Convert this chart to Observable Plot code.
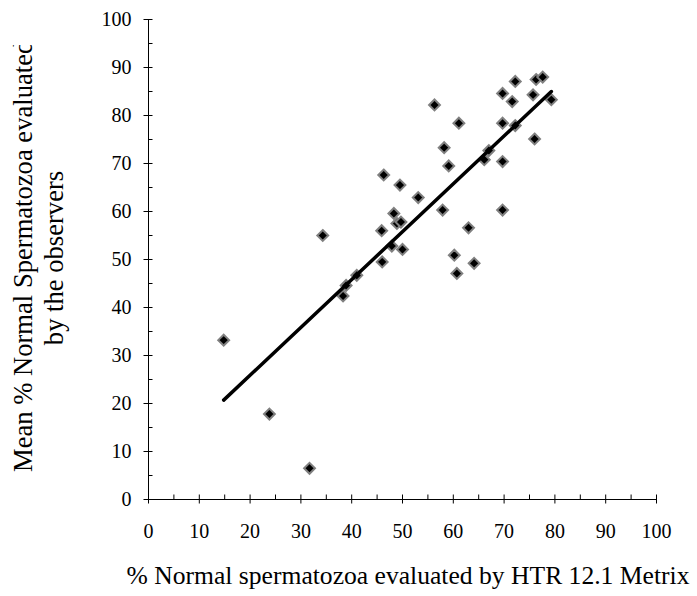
<!DOCTYPE html>
<html><head><meta charset="utf-8">
<script src="https://cdn.jsdelivr.net/npm/d3@7"></script>
<script src="https://cdn.jsdelivr.net/npm/@observablehq/plot@0.6"></script>
<style>
html,body{margin:0;padding:0;background:#fff}
#chart{width:697px;height:596px;overflow:hidden}
</style>
</head><body><div id="chart"></div>
<script>
// % normal spermatozoa by HTR 12.1 Metrix (x) vs mean % by observers (y)
const htrMetrix = [14.8, 23.8, 31.7, 34.3, 46.3, 49.5, 53.1, 48.3, 48.9, 49.7, 45.9, 47.9, 50.0, 46.0, 41.0, 38.9, 38.3,
  56.3, 61.1, 58.2, 59.1, 57.9, 63.0, 60.2, 60.7, 64.1, 69.7, 69.7, 66.1, 67.0, 69.7, 72.2, 76.0, 69.7, 71.6, 72.2, 75.7, 76.3, 77.6, 79.3];
const observerMean = [33.2, 17.8, 6.5, 55.0, 67.6, 65.5, 62.9, 59.6, 57.5, 57.8, 56.0, 52.8, 52.1, 49.5, 46.7, 44.6, 42.4,
  82.2, 78.4, 73.3, 69.5, 60.3, 56.6, 50.9, 47.1, 49.2, 60.3, 70.4, 70.8, 72.7, 78.4, 77.9, 75.1, 84.6, 82.9, 87.1, 84.3, 87.5, 88.0, 83.3];
// regression line end points
const lineX = [14.8, 79.3];
const lineY = [20.7, 85.0];
const majorTicks = [0, 10, 20, 30, 40, 50, 60, 70, 80, 90, 100];
const minorTicks = [5, 15, 25, 35, 45, 55, 65, 75, 85, 95];
const xTitle = "% Normal spermatozoa evaluated by HTR 12.1 Metrix";
const yTitle1 = "Mean % Normal Spermatozoa evaluated";
const yTitle2 = "by the observers";

const points = htrMetrix.map((x, i) => ({x, y: observerMean[i]}));
const trend = lineX.map((x, i) => ({x, y: lineY[i]}));
const font = "'Liberation Serif', 'Times New Roman', serif";
const noText = () => "";

const svg = Plot.plot({
  width: 697,
  height: 596,
  marginLeft: 148,
  marginRight: 41,
  marginTop: 19,
  marginBottom: 97,
  style: {fontFamily: font, fontSize: "20px", color: "black", background: "white", overflow: "visible"},
  x: {domain: [0, 100], label: null},
  y: {domain: [0, 100], label: null},
  marks: [
    Plot.ruleY([0], {stroke: "black", strokeWidth: 1}),
    Plot.ruleX([0], {stroke: "black", strokeWidth: 1}),
    Plot.axisX(majorTicks, {tickSize: 9, dy: -4.5, tickFormat: noText, label: null, stroke: "black"}),
    Plot.axisX(minorTicks, {tickSize: 4.5, dy: -4.5, tickFormat: noText, label: null, stroke: "black"}),
    Plot.axisY(majorTicks, {tickSize: 9, dx: 4.5, tickFormat: noText, label: null, stroke: "black"}),
    Plot.axisY(minorTicks, {tickSize: 4.5, dx: 4.5, tickFormat: noText, label: null, stroke: "black"}),
    Plot.axisX(majorTicks, {tickSize: 0, tickPadding: 24.3, label: null, fontSize: 20, fill: "black"}),
    Plot.axisY(majorTicks, {tickSize: 0, tickPadding: 17, label: null, fontSize: 20, fill: "black"}),
    Plot.dot(points, {x: "x", y: "y", symbol: "diamond2", r: 4.9, fill: "black", stroke: "#808080", strokeWidth: 2}),
    Plot.line(trend, {x: "x", y: "y", stroke: "black", strokeWidth: 3.5, strokeLinecap: "round"})
  ]
});

const s = d3.select(svg);
s.append("defs").append("clipPath").attr("id", "ytclip")
  .append("rect").attr("x", 0).attr("y", 45).attr("width", 140).attr("height", 560);
s.append("text")
  .attr("x", 408).attr("y", 584)
  .attr("text-anchor", "middle")
  .attr("font-family", font).attr("font-size", 25.6).attr("fill", "black")
  .text(xTitle);
const g = s.append("g").attr("clip-path", "url(#ytclip)");
g.append("text")
  .attr("transform", "translate(32,472) rotate(-90)")
  .attr("text-anchor", "start")
  .attr("font-family", font).attr("font-size", 26.6).attr("fill", "black")
  .text(yTitle1);
g.append("text")
  .attr("transform", "translate(63,258) rotate(-90)")
  .attr("text-anchor", "middle")
  .attr("font-family", font).attr("font-size", 26.6).attr("fill", "black")
  .text(yTitle2);

document.getElementById("chart").appendChild(svg);
</script>
</body></html>
